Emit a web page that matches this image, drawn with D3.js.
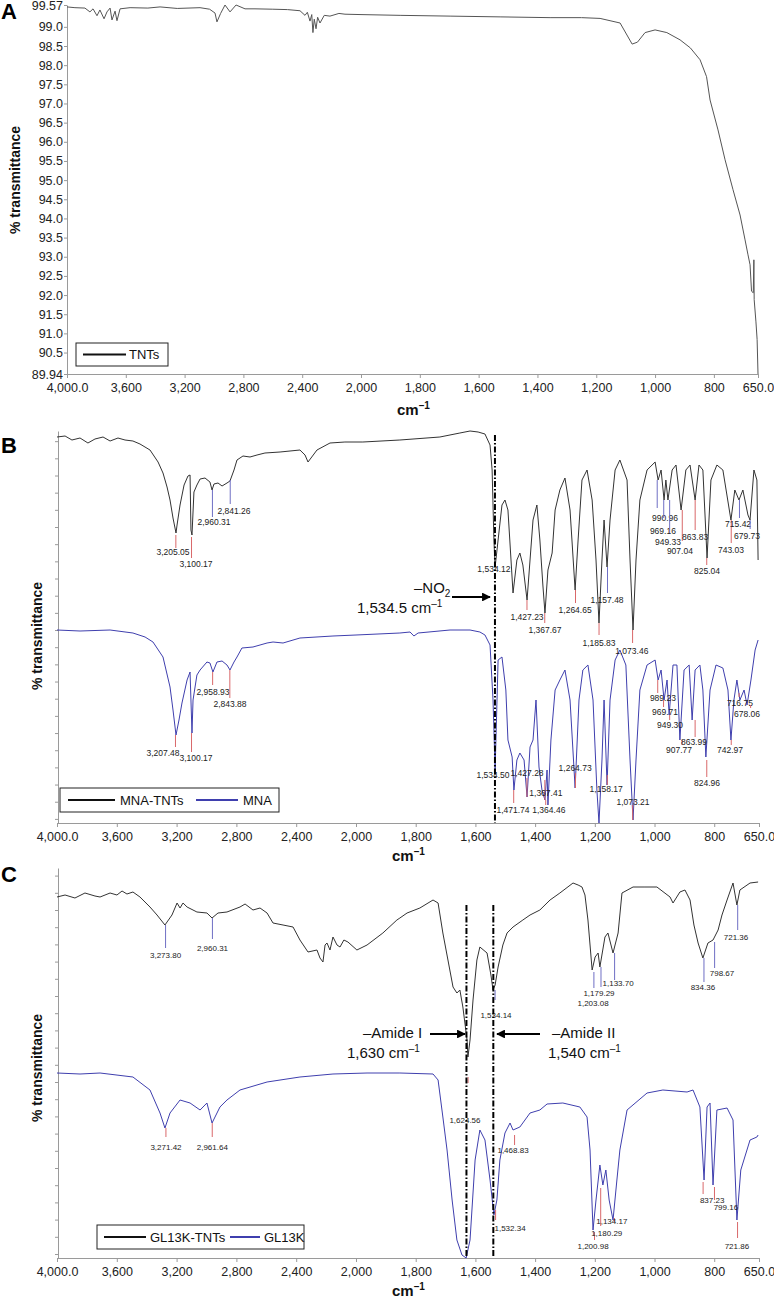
<!DOCTYPE html>
<html>
<head>
<meta charset="utf-8">
<script src="https://cdn.jsdelivr.net/npm/d3@7"></script>
<style>
  body { margin: 0; background: #fff; }
  svg { font-family: "Liberation Sans", Arial, sans-serif; }
</style>
</head>
<body>
<svg id="chart" width="774" height="1301"></svg>
<script>
// ---- tick labels ----
const xTicks = [4000, 3600, 3200, 2800, 2400, 2000, 1800, 1600, 1400, 1200, 1000, 800, 650];
const xTickLabels = ["4,000.0", "3,600", "3,200", "2,800", "2,400", "2,000", "1,800", "1,600", "1,400", "1,200", "1,000", "800", "650.0"];
const yTicksA = [99.57, 99.0, 98.5, 98.0, 97.5, 97.0, 96.5, 96.0, 95.5, 95.0, 94.5, 94.0, 93.5, 93.0, 92.5, 92.0, 91.5, 91.0, 90.5, 89.94];
const yTickLabelsA = ["99.57", "99.0", "98.5", "98.0", "97.5", "97.0", "96.5", "96.0", "95.5", "95.0", "94.5", "94.0", "93.5", "93.0", "92.5", "92.0", "91.5", "91.0", "90.5", "89.94"];

// ---- spectra: [wavenumber cm-1, % transmittance] ----
const tnts = [[4000,99.52],[3946,99.50],[3878,99.49],[3844,99.39],[3823,99.47],[3796,99.29],[3776,99.44],[3748,99.21],[3728,99.39],[3707,99.49],[3694,99.18],[3673,99.41],[3660,99.16],[3639,99.47],[3571,99.50],[3450,99.49],[3367,99.52],[3250,99.48],[3095,99.50],[3030,99.46],[2993,99.36],[2980,99.13],[2955,99.35],[2925,99.57],[2891,99.39],[2850,99.57],[2789,99.47],[2721,99.47],[2600,99.46],[2500,99.45],[2415,99.42],[2381,99.30],[2365,99.38],[2347,99.15],[2335,99.32],[2327,98.85],[2318,99.20],[2306,98.95],[2295,99.25],[2279,99.10],[2250,99.30],[2211,99.28],[2150,99.35],[2109,99.33],[2000,99.32],[1867,99.30],[1697,99.28],[1527,99.26],[1357,99.24],[1250,99.24],[1187,99.22],[1119,99.10],[1078,98.55],[1060,98.60],[1034,98.85],[1000,98.92],[960,98.85],[915,98.66],[880,98.45],[847,98.14],[825,97.70],[813,97.09],[786,96.31],[762,95.53],[735,94.75],[711,94.09],[694,93.44],[684,93.05],[677,92.79],[672,92.10],[666,92.06],[664,92.92],[663,91.88],[657,91.30],[653,90.84],[650,89.94]];

const mnaTnts = [[4000,38.6],[3946,38.7],[3900,38.3],[3846,38.5],[3793,38.0],[3746,38.4],[3692,38.6],[3645,38.2],[3592,38.5],[3545,38.3],[3492,38.2],[3445,37.9],[3378,37.3],[3324,36.1],[3291,35.0],[3264,33.6],[3244,32.3],[3224,30.5],[3204,29.0],[3197,29.8],[3177,31.8],[3150,33.8],[3124,34.7],[3110,34.8],[3104,29.3],[3097,28.8],[3084,33.1],[3064,33.8],[3043,34.4],[3010,34.5],[2977,34.1],[2963,33.3],[2950,33.9],[2923,34.0],[2896,33.7],[2863,34.0],[2843,34.2],[2816,35.3],[2796,36.3],[2756,36.7],[2709,36.6],[2662,36.8],[2609,37.0],[2508,37.1],[2375,37.3],[2341,36.8],[2321,36.1],[2301,36.5],[2261,37.3],[2174,38.0],[2074,38.1],[1977,38.1],[1853,38.3],[1719,38.6],[1652,39.0],[1618,39.2],[1591,39.1],[1568,38.9],[1551,37.8],[1544,35.3],[1538,28.3],[1534,25.6],[1524,28.3],[1511,31.8],[1501,32.3],[1491,31.3],[1474,23.0],[1461,26.3],[1451,27.0],[1441,25.8],[1427,22.3],[1417,26.3],[1407,30.3],[1394,31.8],[1384,28.3],[1374,23.8],[1367,21.0],[1357,25.3],[1343,27.0],[1333,31.3],[1317,33.3],[1300,34.5],[1283,31.3],[1266,23.3],[1256,28.3],[1243,34.3],[1226,35.3],[1209,32.3],[1196,26.3],[1186,20.0],[1176,26.3],[1169,30.3],[1159,25.6],[1149,30.3],[1132,35.3],[1116,36.3],[1092,34.3],[1082,26.3],[1072,19.3],[1062,26.3],[1049,32.3],[1025,35.3],[998,36.1],[988,34.3],[978,35.3],[968,32.3],[962,34.3],[955,32.3],[941,35.3],[928,35.8],[911,31.3],[895,35.3],[881,35.8],[864,32.3],[851,35.8],[838,35.3],[824,26.5],[811,34.3],[791,35.8],[771,35.3],[744,30.3],[731,33.3],[717,32.3],[704,33.3],[687,30.8],[680,30.3],[667,35.3],[657,34.3],[653,26.3]];

const mna = [[4000,19.3],[3846,19.2],[3645,19.3],[3492,19.0],[3411,18.6],[3358,18.1],[3291,16.6],[3244,13.6],[3224,11.3],[3204,8.8],[3184,10.3],[3164,12.0],[3130,14.3],[3110,15.1],[3097,9.0],[3090,12.3],[3064,14.8],[3043,15.3],[2997,16.1],[2977,16.0],[2957,15.1],[2930,16.1],[2896,16.2],[2863,15.8],[2843,15.3],[2816,16.1],[2796,16.6],[2763,17.5],[2689,17.6],[2642,17.8],[2595,18.0],[2555,18.1],[2488,18.0],[2375,18.5],[2154,18.7],[2000,18.8],[1853,19.0],[1819,19.1],[1806,18.7],[1792,19.0],[1685,19.3],[1618,19.3],[1585,19.1],[1568,18.8],[1551,17.8],[1541,12.3],[1534,5.3],[1524,16.3],[1511,16.6],[1498,13.3],[1491,8.3],[1477,6.6],[1471,3.3],[1461,6.3],[1451,7.0],[1437,6.3],[1427,2.6],[1417,7.6],[1407,8.3],[1397,12.3],[1387,5.6],[1377,3.3],[1367,2.3],[1360,5.3],[1357,1.8],[1347,8.3],[1333,13.3],[1317,14.3],[1300,15.3],[1283,12.3],[1266,3.5],[1253,12.3],[1240,15.3],[1223,15.8],[1206,12.3],[1193,3.3],[1186,0.0],[1176,6.3],[1169,12.3],[1159,3.8],[1149,12.3],[1132,16.3],[1116,17.3],[1096,15.8],[1082,6.3],[1072,0.3],[1062,6.3],[1049,13.3],[1025,15.8],[998,16.3],[988,14.3],[978,15.3],[968,12.3],[958,14.3],[951,10.8],[938,15.8],[925,15.8],[915,8.3],[901,15.3],[884,15.8],[874,10.3],[864,15.3],[848,15.8],[838,13.3],[828,6.6],[814,13.3],[794,15.8],[771,15.5],[754,13.3],[744,8.3],[734,12.3],[724,14.3],[714,12.3],[700,13.3],[690,11.8],[677,14.3],[663,17.3],[653,18.3]];

const gl13kTnts = [[4000,36.1],[3946,36.3],[3880,36.0],[3813,36.5],[3746,36.2],[3712,36.1],[3645,36.5],[3599,36.3],[3565,36.7],[3532,36.4],[3492,36.6],[3445,36.1],[3378,35.1],[3331,34.3],[3278,33.3],[3231,34.3],[3197,35.5],[3177,35.0],[3157,35.5],[3130,35.1],[3064,34.6],[2997,34.5],[2963,34.0],[2923,34.5],[2863,34.6],[2776,35.1],[2742,35.4],[2689,34.8],[2642,35.0],[2595,34.5],[2555,33.5],[2488,33.3],[2421,33.1],[2375,31.8],[2321,30.6],[2261,30.8],[2241,30.0],[2221,29.6],[2207,31.3],[2194,31.5],[2174,30.8],[2154,32.1],[2127,31.3],[2107,31.1],[2081,31.8],[2054,31.6],[1997,30.8],[1963,31.3],[1910,32.5],[1863,33.8],[1853,34.0],[1829,34.5],[1786,35.0],[1742,35.8],[1725,35.5],[1709,32.5],[1692,29.8],[1675,27.1],[1662,26.5],[1652,26.8],[1642,25.1],[1628,21.8],[1625,20.1],[1618,21.8],[1608,25.8],[1595,29.8],[1585,31.1],[1561,30.5],[1548,28.3],[1541,26.8],[1534,27.3],[1524,29.1],[1508,31.3],[1494,32.5],[1474,33.1],[1441,33.8],[1417,34.3],[1384,34.8],[1350,35.8],[1317,36.5],[1273,37.5],[1256,37.3],[1243,37.1],[1233,36.3],[1223,33.8],[1209,28.8],[1199,30.1],[1189,30.5],[1183,29.1],[1166,32.1],[1156,32.5],[1139,30.5],[1122,32.5],[1109,36.5],[1072,37.1],[1032,37.1],[992,37.1],[948,36.1],[938,35.5],[915,36.6],[898,36.8],[881,35.8],[868,33.3],[854,31.5],[838,30.0],[821,31.5],[804,31.8],[787,32.8],[774,34.3],[757,35.8],[737,37.5],[724,35.3],[714,36.8],[680,37.5],[653,37.6]];

const gl13k = [[4000,18.5],[3846,18.4],[3712,18.5],[3492,18.1],[3378,16.8],[3311,14.5],[3278,13.0],[3244,14.5],[3177,15.8],[3110,15.5],[3043,14.8],[2997,15.5],[2963,13.5],[2910,15.1],[2863,15.8],[2776,16.8],[2595,17.6],[2375,18.1],[2154,18.4],[1963,18.5],[1853,18.5],[1742,18.4],[1725,17.8],[1709,14.1],[1695,10.8],[1678,5.8],[1662,1.8],[1645,0.3],[1631,0.0],[1618,1.8],[1601,9.8],[1585,12.8],[1568,11.8],[1551,7.8],[1538,4.3],[1528,5.8],[1518,9.8],[1501,12.5],[1484,13.5],[1474,12.8],[1451,13.1],[1417,14.5],[1384,14.8],[1360,15.4],[1307,15.5],[1250,15.1],[1226,14.1],[1216,10.8],[1206,2.8],[1196,5.8],[1183,9.3],[1173,7.3],[1163,8.8],[1152,5.8],[1139,3.8],[1126,7.8],[1116,10.8],[1092,14.8],[1025,16.5],[972,16.8],[891,16.6],[871,16.8],[848,15.1],[834,7.8],[824,15.1],[814,15.5],[804,7.3],[791,14.8],[757,15.0],[737,13.8],[724,3.8],[711,8.8],[680,11.8],[657,12.1],[653,12.3]];

// ---- peak marks: [peak, label, colour, tick from, tick to, label at wavenumber, label at value] ----
const mnaTntsPeaks = [
  [3205.05,"3,205.05","r",28.8,27.5,3224,27.1],[3100.17,"3,100.17","r",28.6,26.5,3070,25.9],
  [2960.31,"2,960.31","b",33.3,30.6,2950,30.1],[2841.26,"2,841.26","b",34.3,31.9,2816,31.2],
  [1534.12,"1,534.12","b",25.6,25.6,1538,25.4],[1427.23,"1,427.23","r",22.3,21.3,1427,20.6],
  [1367.67,"1,367.67","r",21.0,20.0,1367,19.3],[1264.65,"1,264.65","r",23.3,22.0,1266,21.3],
  [1185.83,"1,185.83","r",20.0,18.8,1186,18.0],[1157.48,"1,157.48","b",25.6,23.0,1159,22.3],
  [1073.46,"1,073.46","r",19.3,18.0,1076,17.2],[990.96,"990.96","b",34.3,31.5,965,30.5],
  [969.16,"969.16","b",32.3,30.5,972,29.2],[949.33,"949.33","b",32.3,29.0,955,28.1],
  [907.04,"907.04","r",31.3,28.2,915,27.2],[863.83,"863.83","r",32.3,29.3,864,28.6],
  [825.04,"825.04","r",26.5,25.8,824,25.2],[743.03,"743.03","r",30.3,28.0,744,27.3],
  [715.42,"715.42","b",32.3,30.5,720,29.9],[679.73,"679.73","b",30.3,29.4,690,28.7]
];
const mnaPeaks = [
  [3207.48,"3,207.48","r",8.8,7.6,3291,7.0],[3100.17,"3,100.17","r",9.0,7.1,3070,6.5],
  [2958.93,"2,958.93","r",15.1,13.8,2957,13.1],[2843.88,"2,843.88","r",15.3,12.5,2843,11.9],
  [1534.50,"1,534.50","r",5.3,5.3,1541,4.8],[1471.74,"1,471.74","r",3.3,2.0,1474,1.3],
  [1427.28,"1,427.28","r",4.5,2.6,1427,5.0],[1367.41,"1,367.41","r",4.3,2.3,1364,3.0],
  [1364.46,"1,364.46","r",2.3,1.8,1354,1.3],[1264.73,"1,264.73","r",5.0,3.5,1266,5.5],
  [1158.17,"1,158.17","r",4.8,3.8,1162,3.4],[1073.21,"1,073.21","r",1.8,0.3,1072,2.1],
  [989.23,"989.23","r",14.3,13.0,972,12.5],[969.71,"969.71","r",12.3,11.6,965,11.1],
  [949.30,"949.30","r",10.8,10.3,948,9.8],[907.77,"907.77","r",8.3,7.8,918,7.3],
  [863.99,"863.99","r",10.3,8.6,868,8.1],[824.96,"824.96","r",6.3,4.6,824,4.0],
  [742.97,"742.97","r",8.3,7.8,747,7.3],[716.75,"716.75","r",13.0,12.6,714,12.0],
  [678.06,"678.06","r",11.8,11.5,690,10.9]
];
const gl13kTntsPeaks = [
  [3273.80,"3,273.80","b",33.3,31.0,3273.8,30.3],[2960.31,"2,960.31","b",34.0,31.9,2960,31.0],
  [1534.14,"1,534.14","b",26.8,25.8,1531,24.3],[1203.08,"1,203.08","b",28.6,27.0,1206,25.5],
  [1179.29,"1,179.29","b",29.1,27.1,1186,26.5],[1133.70,"1,133.70","b",30.5,27.8,1122,27.5],
  [834.36,"834.36","b",30.0,27.6,838,27.1],[798.67,"798.67","b",31.6,29.0,774,28.5],
  [721.36,"721.36","b",35.3,32.8,727,32.1]
];
const gl13kPeaks = [
  [3271.42,"3,271.42","r",13.0,12.1,3271,11.1],[2961.64,"2,961.64","r",13.5,12.1,2961,11.1],
  [1624.56,"1,624.56","r",18.1,17.5,1635,13.8],[1468.83,"1,468.83","r",12.3,11.3,1474,10.8],
  [1532.34,"1,532.34","r",4.8,3.8,1484,3.0],[1200.98,"1,200.98","r",2.6,1.8,1206,1.2],
  [1180.29,"1,180.29","r",7.0,3.2,1160,2.5],[1134.17,"1,134.17","r",3.6,4.0,1143,3.7],
  [837.23,"837.23","r",7.6,6.4,807,5.8],[799.16,"799.16","r",7.1,5.8,761,5.1],
  [721.86,"721.86","r",3.6,2.0,724,1.2]
];

const FONT = '"Liberation Sans", Arial, sans-serif';
const RED = "#d9686a", BLUE = "#6f6fc4";
const svg = d3.select("#chart");

function xScale(left, mid, right) {
  return d3.scaleLinear().domain([4000, 2000, 650]).range([left, mid, right]);
}

function drawAxes(x, y, yTicks, yLabels, bottom, left) {
  const gx = svg.append("g").attr("transform", `translate(0,${bottom})`)
    .call(d3.axisBottom(x).tickValues(xTicks).tickFormat((d, i) => xTickLabels[i])
      .tickSize(4).tickSizeOuter(0).tickPadding(5));
  const gy = svg.append("g").attr("transform", `translate(${left},0)`)
    .call(d3.axisLeft(y).tickValues(yTicks).tickFormat((d, i) => yLabels ? yLabels[i] : "")
      .tickSize(3).tickSizeOuter(0).tickPadding(1));
  [gx, gy].forEach(g => {
    g.attr("font-family", FONT).attr("font-size", 12.5);
    g.select(".domain").attr("stroke", "#9a9a9a");
    g.selectAll(".tick line").attr("stroke", "#9a9a9a");
    g.selectAll(".tick text").attr("fill", "#222");
  });
}

function drawSpectrum(data, x, y, color) {
  svg.append("path").datum(data)
    .attr("d", d3.line().x(d => x(d[0])).y(d => y(d[1])))
    .attr("fill", "none").attr("stroke", color).attr("stroke-width", 1)
    .attr("stroke-linejoin", "round");
}

function drawPeaks(peaks, x, y, size) {
  peaks.forEach(([w, label, c, t1, t2, lw, lt]) => {
    if (t1 !== t2) {
      svg.append("line").attr("x1", x(w)).attr("x2", x(w)).attr("y1", y(t1)).attr("y2", y(t2))
        .attr("stroke", c === "r" ? RED : BLUE).attr("stroke-width", 1);
    }
    svg.append("text").attr("x", x(lw)).attr("y", y(lt)).attr("dy", "0.35em")
      .attr("text-anchor", "middle").attr("font-size", size).attr("fill", "#222").text(label);
  });
}

function axisTitles(cx, cy, ly, lx) {
  const t = svg.append("text").attr("x", cx).attr("y", cy).attr("font-size", 15)
    .attr("font-weight", "bold").attr("fill", "#111");
  t.append("tspan").text("cm");
  t.append("tspan").attr("font-size", 10).attr("dy", -6).text("–1");
  svg.append("text").attr("transform", `translate(${lx},${ly}) rotate(-90)`)
    .attr("text-anchor", "middle").attr("font-size", 14).attr("font-weight", "bold")
    .attr("fill", "#111").text("% transmittance");
}

function legend(x0, y0, w, h, items) {
  svg.append("rect").attr("x", x0).attr("y", y0).attr("width", w).attr("height", h)
    .attr("fill", "#fff").attr("stroke", "#222").attr("stroke-width", 1);
  items.forEach(it => {
    svg.append("line").attr("x1", it.x1).attr("x2", it.x2).attr("y1", y0 + h / 2).attr("y2", y0 + h / 2)
      .attr("stroke", it.color).attr("stroke-width", 2);
    svg.append("text").attr("x", it.tx).attr("y", y0 + h / 2).attr("dy", "0.35em")
      .attr("font-size", 13).attr("fill", "#111").text(it.label);
  });
}

function panelLetter(l, xp, yp) {
  svg.append("text").attr("x", xp).attr("y", yp).attr("font-size", 22).attr("font-weight", "bold")
    .attr("fill", "#000").text(l);
}

function dashLine(xp, y1, y2) {
  svg.append("line").attr("x1", xp).attr("x2", xp).attr("y1", y1).attr("y2", y2)
    .attr("stroke", "#000").attr("stroke-width", 2).attr("stroke-dasharray", "6,2,1.5,2");
}

svg.append("defs").append("marker").attr("id", "arrow").attr("viewBox", "0 0 10 10")
  .attr("refX", 9).attr("refY", 5).attr("markerWidth", 4).attr("markerHeight", 4)
  .attr("orient", "auto").append("path").attr("d", "M0,0L10,5L0,10z").attr("fill", "#000");

function arrow(x1, x2, yp) {
  svg.append("line").attr("x1", x1).attr("x2", x2).attr("y1", yp).attr("y2", yp)
    .attr("stroke", "#000").attr("stroke-width", 2.2).attr("marker-end", "url(#arrow)");
}

function bigLabel(xp, yp, parts) {
  const t = svg.append("text").attr("x", xp).attr("y", yp).attr("font-size", 15).attr("fill", "#111");
  parts.forEach(p => {
    const s = t.append("tspan").text(p[0]);
    if (p[1] === "sup") s.attr("font-size", 10).attr("dy", -6);
    if (p[1] === "sub") s.attr("font-size", 10).attr("dy", 4);
  });
}

// ===== Panel A =====
const xA = xScale(67, 361, 758);
const yA = d3.scaleLinear().domain([89.94, 99.57]).range([374, 5]);
drawAxes(xA, yA, yTicksA, yTickLabelsA, 374, 67);
drawSpectrum(tnts, xA, yA, "#555");
legend(76, 343, 92, 23, [{ label: "TNTs", color: "#111", x1: 83, x2: 126, tx: 129 }]);
axisTitles(397, 415, 180, 20);
panelLetter("A", 1, 19);

// ===== Panel B =====
const xB = xScale(57, 356, 759);
const yB = d3.scaleLinear().domain([0, 39.2]).range([823, 431]);
drawAxes(xB, yB, d3.range(0.41, 39.2, 1.717), null, 823, 58);
drawSpectrum(mnaTnts, xB, yB, "#333");
drawSpectrum(mna, xB, yB, "#3f3fae");
drawPeaks(mnaTntsPeaks, xB, yB, 8.5);
drawPeaks(mnaPeaks, xB, yB, 8.5);
dashLine(xB(1534.5), 435, 823);
legend(60, 788, 219, 24, [
  { label: "MNA-TNTs", color: "#111", x1: 68, x2: 115, tx: 120 },
  { label: "MNA", color: "#3f3fae", x1: 196, x2: 238, tx: 243 }
]);
axisTitles(392, 861, 636, 42);
panelLetter("B", 1, 453);
bigLabel(414, 593, [["–NO"], ["2", "sub"]]);
bigLabel(357, 613, [["1,534.5 cm"], ["–1", "sup"]]);
arrow(452, 490, 597);

// ===== Panel C =====
const xC = xScale(57, 356, 759);
const yC = d3.scaleLinear().domain([0, 39]).range([1258, 868]);
drawAxes(xC, yC, d3.range(0.4, 39, 1.72), null, 1258, 58);
drawSpectrum(gl13kTnts, xC, yC, "#333");
drawSpectrum(gl13k, xC, yC, "#3f3fae");
drawPeaks(gl13kTntsPeaks, xC, yC, 8);
drawPeaks(gl13kPeaks, xC, yC, 8);
dashLine(xC(1630), 905, 1258);
dashLine(xC(1540), 905, 1258);
legend(97, 1225, 207, 24, [
  { label: "GL13K-TNTs", color: "#111", x1: 104, x2: 146, tx: 150 },
  { label: "GL13K", color: "#3f3fae", x1: 230, x2: 260, tx: 264 }
]);
axisTitles(392, 1296, 1068, 42);
panelLetter("C", 1, 882);
bigLabel(363, 1038, [["–Amide I"]]);
bigLabel(347, 1058, [["1,630 cm"], ["–1", "sup"]]);
arrow(430, 465, 1034);
bigLabel(552, 1038, [["–Amide II"]]);
bigLabel(548, 1058, [["1,540 cm"], ["–1", "sup"]]);
arrow(540, 497, 1034);
</script>
</body>
</html>
